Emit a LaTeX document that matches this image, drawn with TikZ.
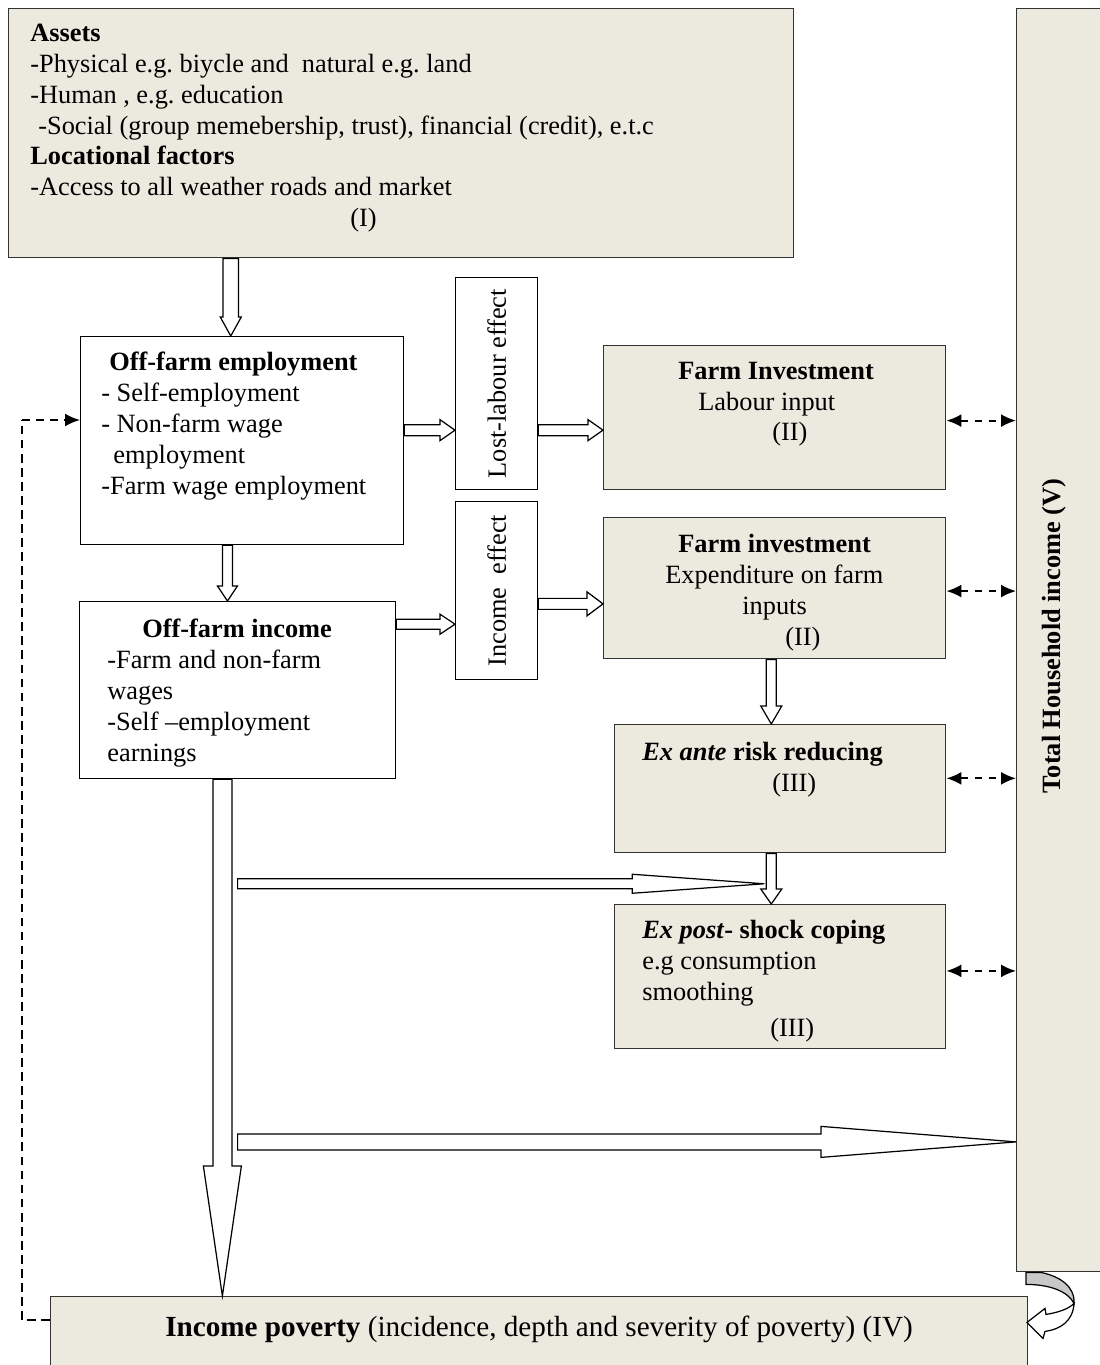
\documentclass[tikz,border=0pt]{standalone}
\usepackage{fontspec}
\setmainfont{Liberation Serif}
\usetikzlibrary{arrows.meta, calc}
\frenchspacing

\newdimen\pxu \pxu=0.02cm
\definecolor{boxbeige}{RGB}{236,233,223}
\definecolor{curlgray}{RGB}{200,200,200}

% hollow block arrow: from, to, shaft half width, head half width, head length
\newcommand\blockarrow[5]{%
  \coordinate (ba-s) at (#1);
  \coordinate (ba-e) at (#2);
  \coordinate (ba-h) at ($(ba-e)!#5!(ba-s)$);
  \draw[blockarr] ($(ba-s)!#3!90:(ba-e)$) -- ($(ba-h)!#3!90:(ba-e)$) -- ($(ba-h)!#4!90:(ba-e)$)
    -- (ba-e) -- ($(ba-h)!#4!-90:(ba-e)$) -- ($(ba-h)!#3!-90:(ba-e)$) -- ($(ba-s)!#3!-90:(ba-e)$) -- cycle;
}

\begin{document}
\begin{tikzpicture}[
  x=0.02cm, y=-0.02cm,
  font=\fontsize{15}{17.6}\selectfont,
  beigebox/.style={draw=black!80, line width=0.8pt, fill=boxbeige, anchor=north west, inner sep=0pt},
  whitebox/.style={draw=black, line width=0.7pt, fill=white, anchor=north west, inner sep=0pt},
  txt/.style={anchor=north west, inner sep=0pt, align=left},
  vtxt/.style={rotate=90, inner sep=0pt},
  blockarr/.style={draw=black, line width=0.7pt, fill=white, line join=miter},
  dblarr/.style={{Latex[length=3mm,width=2.6mm]}-{Latex[length=3mm,width=2.6mm]}, line width=1.1pt, dash pattern=on 4.5pt off 3.5pt},
  fbthin/.style={line width=0.6pt, dash pattern=on 5pt off 3pt},
  fbthick/.style={-{Latex[length=3mm,width=2.6mm]}, line width=1.1pt, dash pattern=on 4.5pt off 3.5pt}
]
\useasboundingbox (0,0) rectangle (1099,1365);

% boxes
\node[beigebox, minimum width=785\pxu, minimum height=249\pxu] (assets) at (8,8) {};
\node[beigebox, minimum width=120\pxu, minimum height=1263\pxu] (tot) at (1016,8) {};
\node[whitebox, minimum width=323\pxu, minimum height=208\pxu] (emp) at (80,336) {};
\node[whitebox, minimum width=82\pxu, minimum height=212\pxu] (lost) at (455,277) {};
\node[whitebox, minimum width=82\pxu, minimum height=178\pxu] (ieff) at (455,501) {};
\node[beigebox, minimum width=342\pxu, minimum height=144\pxu] (fi) at (603,345) {};
\node[beigebox, minimum width=342\pxu, minimum height=141\pxu] (fi2) at (603,517) {};
\node[whitebox, minimum width=316\pxu, minimum height=177\pxu] (inc) at (79,601) {};
\node[beigebox, minimum width=331\pxu, minimum height=128\pxu] (exante) at (614,724) {};
\node[beigebox, minimum width=331\pxu, minimum height=144\pxu] (expost) at (614,904) {};
\node[beigebox, minimum width=977\pxu, minimum height=90\pxu] (pov) at (50,1296) {};

% texts
\node[txt] (assetstxt) at (30,23.5) {\textbf{Assets}\\
  -Physical e.g. biycle and \ natural e.g. land\\
  -Human , e.g. education\\
  \hspace*{8\pxu}-Social (group memebership, trust), financial (credit), e.t.c\\
  \textbf{Locational factors}\\
  -Access to all weather roads and market\\
  \hspace*{320\pxu}(I)};
\node[txt] (emptxt) at (101,352) {\hspace*{8\pxu}\textbf{Off-farm employment}\\
  - Self-employment\\
  - Non-farm wage\\
  \hspace*{12\pxu}employment\\
  -Farm wage employment};
\node[txt] (inctxt) at (107,619) {\hspace*{35\pxu}\textbf{Off-farm income}\\
  -Farm and non-farm\\
  wages\\
  -Self --employment\\
  earnings};
\node[txt] (fitxt) at (678,361.5) {\textbf{Farm Investment}\\
  \hspace*{20\pxu}Labour input\\
  \hspace*{94\pxu}(II)};
\node[txt] (fi2txt) at (665,534) {\hspace*{13\pxu}\textbf{Farm investment}\\
  Expenditure on farm\\
  \hspace*{77\pxu}inputs\\
  \hspace*{120\pxu}(II)};
\node[txt] (exantetxt) at (642,742) {\textbf{\textit{Ex ante}} \textbf{risk reducing}\\
  \hspace*{130\pxu}(III)};
\node[txt] (exposttxt) at (642,920) {\textbf{\textit{Ex post}- shock coping}\\
  e.g consumption\\
  smoothing\\[3pt]
  \hspace*{128\pxu}(III)};
\node[anchor=base west, inner sep=0pt, font=\fontsize{16.6}{19}\selectfont] (povtxt) at (165,1336) {\textbf{Income poverty} (incidence, depth and severity of poverty) (IV)};
\node[vtxt] (losttxt) at (lost.center) {Lost-labour effect};
\node[vtxt] (iefftxt) at (ieff.center) {Income \ effect};
\node[vtxt, font=\fontsize{15}{17.6}\selectfont\bfseries] (tottxt) at (1054,636) {Total Household income (V)};

% anchor points for the block arrows
\coordinate (colA) at ($(emp.north west)!0.465!(emp.north east)$);
\coordinate (colB) at ($(inc.north west)!0.468!(inc.north east)$);
\coordinate (colC) at ($(fi2.south west)!0.49!(fi2.south east)$);
\coordinate (colD) at ($(inc.south west)!0.452!(inc.south east)$);
\coordinate (rowA) at ($(emp.north east)!0.45!(emp.south east)$);
\coordinate (rowB) at ($(inc.north east)!0.13!(inc.south east)$);
\coordinate (rowE) at ($(fi2.north west)!0.61!(fi2.south west)$);
\coordinate (rowC) at ($(exante.south -| colC)!0.6!(expost.north -| colC)$);
\coordinate (rowD) at ($(expost.south)!0.375!(pov.north)$);

\blockarrow{assets.south -| colA}{colA}{0.155cm}{0.21cm}{0.38cm}
\blockarrow{emp.south -| colB}{colB}{0.1cm}{0.2cm}{0.3cm}
\blockarrow{rowA}{lost.west |- rowA}{0.11cm}{0.21cm}{0.3cm}
\blockarrow{lost.east |- rowA}{fi.west |- rowA}{0.11cm}{0.21cm}{0.3cm}
\blockarrow{rowB}{ieff.west |- rowB}{0.1cm}{0.2cm}{0.3cm}
\blockarrow{ieff.east |- rowE}{rowE}{0.11cm}{0.24cm}{0.32cm}
\blockarrow{colC}{exante.north -| colC}{0.1cm}{0.21cm}{0.36cm}
\blockarrow{inc.south |- rowC}{[xshift=-0.14cm]rowC}{0.1cm}{0.19cm}{2.64cm}
\blockarrow{exante.south -| colC}{expost.north -| colC}{0.1cm}{0.21cm}{0.3cm}
\blockarrow{inc.south -| colD}{pov.north -| colD}{0.19cm}{0.38cm}{2.6cm}
\blockarrow{inc.south |- rowD}{tot.west |- rowD}{0.16cm}{0.31cm}{3.9cm}

% dashed links to total income
\coordinate (fiR) at ($(fi.north east)!0.52!(fi.south east)$);
\coordinate (fi2R) at ($(fi2.north east)!0.52!(fi2.south east)$);
\coordinate (exanteR) at ($(exante.north east)!0.42!(exante.south east)$);
\coordinate (expostR) at ($(expost.north east)!0.46!(expost.south east)$);
\draw[dblarr] (fiR) -- (fiR -| tot.west);
\draw[dblarr] (fi2R) -- (fi2R -| tot.west);
\draw[dblarr] (exanteR) -- (exanteR -| tot.west);
\draw[dblarr] (expostR) -- (expostR -| tot.west);

% feedback from poverty to employment
\coordinate (fbs) at ($(pov.north west)+(0,24)$);
\coordinate (fbe) at ($(emp.north west)+(0,84)$);
\coordinate (fbc) at ($(fbe)+(-58,0)$);
\draw[fbthin] (fbs) -| (fbc);
\draw[fbthick] (fbc) -- (fbe);

% curved arrow from total income to poverty
\begin{scope}[shift={(tot.south west)}, line width=0.7pt]
  \draw[fill=curlgray] (10,0) -- (25,0) .. controls (44,4) and (59,14) .. (58,31)
    .. controls (52,19) and (34,12) .. (10,12) -- cycle;
  \draw[fill=white] (58,31) .. controls (57,49) and (44,57) .. (29,59) -- (27,66) -- (11,50)
    -- (29,36) -- (30,42) .. controls (42,40) and (52,37) .. (58,31) -- cycle;
\end{scope}
\end{tikzpicture}
\end{document}
